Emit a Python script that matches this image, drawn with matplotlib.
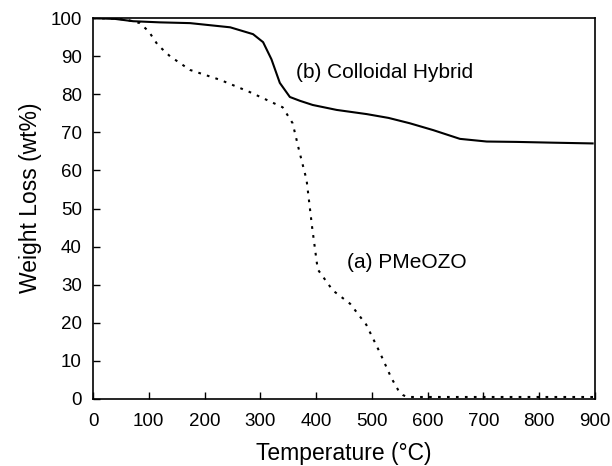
import numpy as np
import matplotlib.pyplot as plt

plt.rcParams['font.family'] = ['Liberation Sans', 'DejaVu Sans']

# (b) colloidal hybrid, solid line
temp_b = [0, 40, 72, 120, 174, 246, 287, 305, 320, 335, 353, 371, 394, 437,
          491, 530, 568, 610, 658, 706, 760, 824, 896]
wt_b = [100, 99.8, 99.2, 98.9, 98.7, 97.6, 95.8, 93.7, 89.2, 83.0, 79.3, 78.3,
        77.2, 75.9, 74.8, 73.8, 72.4, 70.6, 68.3, 67.6, 67.5, 67.3, 67.1]

# (a) PMeOZO, dotted line
temp_a = [0, 40, 60, 84, 100, 116, 138, 174, 228, 281, 312, 340, 358, 370,
          383, 393, 403, 430, 461, 490, 514, 535, 547, 556, 563, 700, 900]
wt_a = [100, 99.9, 99.6, 98.7, 96.5, 93, 90, 86.4, 83.8, 80.6, 78.5, 76.6,
        72.4, 65, 57.5, 45, 34, 28.5, 25, 19.5, 12.3, 5.5, 2.4, 1.0, 0.5, 0.5, 0.5]

fig = plt.figure(figsize=(6.12, 4.66), dpi=100)
ax = fig.add_axes([0.152, 0.144, 0.82, 0.817])

ax.plot(temp_b, wt_b, color='black', lw=1.5)
ax.plot(temp_a, wt_a, color='black', lw=1.5, linestyle=(0, (1.3, 3)))

ax.text(364, 85.6, '(b) Colloidal Hybrid', fontsize=15, va='center')
ax.text(455, 35.7, '(a) PMeOZO', fontsize=15, va='center')

ax.set_xlim(0, 900)
ax.set_ylim(0, 100)
ax.set_xticks(range(0, 901, 100))
ax.set_yticks(range(0, 101, 10))
ax.tick_params(direction='in', length=5, width=1, labelsize=13.5, pad=8,
               top=False, right=False)
ax.tick_params(axis='x', pad=10)
for s in ax.spines.values():
    s.set_linewidth(1.2)

ax.set_xlabel('Temperature (°C)', fontsize=16.5, labelpad=9)
ax.set_ylabel('Weight Loss (wt%)', fontsize=16.5)
ax.yaxis.set_label_coords(-0.101, 0.528)

fig.savefig('out.png', dpi=100)
